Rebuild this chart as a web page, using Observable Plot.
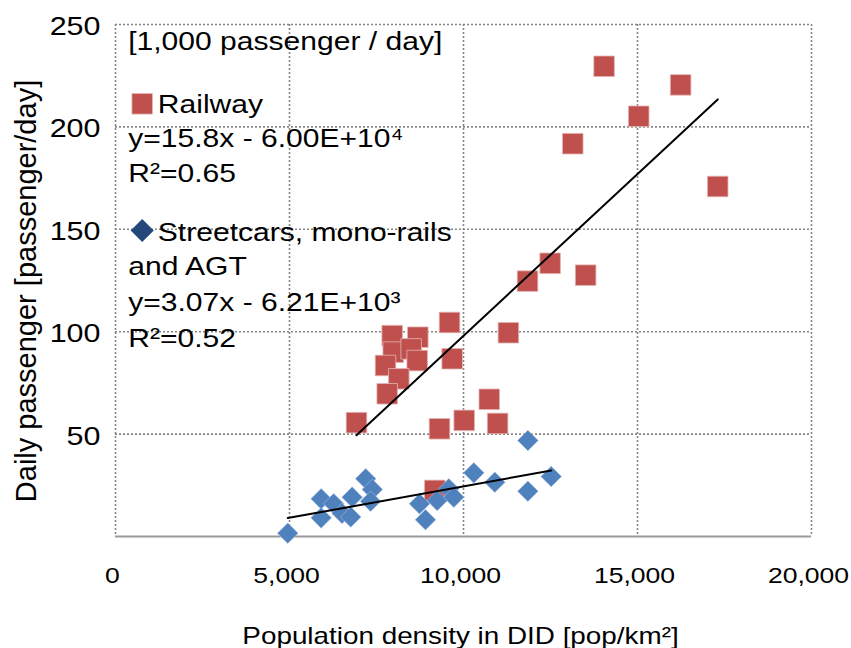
<!DOCTYPE html>
<html>
<head>
<meta charset="utf-8">
<script src="https://cdn.jsdelivr.net/npm/d3@7"></script>
<script src="https://cdn.jsdelivr.net/npm/@observablehq/plot@0.6"></script>
<style>
  html, body { margin: 0; padding: 0; background: #fff; }
</style>
</head>
<body>
<div id="chart"></div>
<script>
// ---- Data (population density in DID [pop/km²], daily passengers [1,000 / day]) ----
const railX = [14040, 16240, 15035, 13140, 17305, 11840, 12490, 13510, 11290, 9598,
               9674, 7950, 8687, 7980, 8496, 8669, 7759, 8141, 7807, 6925,
               9310, 10020, 10740, 10980, 9175];
const railY = [229.6, 220.5, 205.2, 191.8, 170.9, 124.7, 133.4, 127.6, 99.5, 104.5,
               86.8, 98.1, 97.3, 90.0, 91.6, 85.9, 83.5, 77.0, 69.7, 55.6,
               52.6, 56.7, 67.0, 55.2, 22.5];

const streetX = [4950, 5910, 5910, 6270, 6510, 6760, 6800, 7190, 7380, 7330,
                 8736, 8908, 9244, 9578, 9722, 10296, 10900, 11850, 11850, 12520];
const streetY = [1.6, 18.4, 9.1, 16.0, 11.3, 9.5, 19.2, 28.2, 23.0, 17.2,
                 16.0, 8.2, 17.6, 23.3, 19.2, 31.1, 26.5, 46.9, 22.1, 29.3];

// Linear trend coefficients (passengers/day = slope * density + intercept)
const railSlope = 15.8, railIntercept = -6.00e4;
const streetSlope = 3.07, streetIntercept = -6.21e3;

const xTicks = [0, 5000, 10000, 15000, 20000];
const yTicks = [50, 100, 150, 200, 250];

const legendTitle = "[1,000 passenger / day]";
const railLabel = "Railway";
const railEq = "y=15.8x - 6.00E+10\u2074";
const railR2 = "R\u00b2=0.65";
const streetLabel1 = "Streetcars, mono-rails";
const streetLabel2 = "and AGT";
const streetEq = "y=3.07x - 6.21E+10\u00b3";
const streetR2 = "R\u00b2=0.52";
const xTitle = "Population density in DID [pop/km\u00b2]";
const yTitle = "Daily passenger [passenger/day]";

// ---- Build tables ----
const rail = railX.map((x, i) => ({x, y: railY[i]}));
const street = streetX.map((x, i) => ({x, y: streetY[i]}));
const fit = (xs, slope, intercept) =>
  d3.extent(xs).map(x => ({x, y: (slope * x + intercept) / 1000}));
const railFit = fit(railX, railSlope, railIntercept);
const streetFit = fit(streetX, streetSlope, streetIntercept);

const ann = (str, dx, dy) =>
  Plot.text([str], {text: d => d, frameAnchor: "top-left", textAnchor: "start",
    lineAnchor: "bottom", dx, dy, fontSize: 26.6, fill: "#000"});

const gridStyle = {stroke: "#868686", strokeOpacity: 1, strokeWidth: 1.6, strokeDasharray: "2,2"};

const chart = Plot.plot({
  width: 851,
  height: 648,
  marginLeft: 115,
  marginRight: 40,
  marginTop: 24,
  marginBottom: 112,
  style: {fontFamily: "'Liberation Sans', Arial, sans-serif", background: "#fff", color: "#000"},
  x: {domain: [0, 20000]},
  y: {domain: [0, 250]},
  marks: [
    Plot.gridX({ticks: xTicks, ...gridStyle}),
    Plot.gridY({ticks: yTicks, ...gridStyle}),
    Plot.ruleY([0], {stroke: "#9a9a9a", strokeWidth: 2.2}),
    Plot.axisX({ticks: xTicks, tickSize: 0, tickPadding: 31, tickFormat: d3.format(","),
      fontSize: 22.5, label: null, dx: -3}),
    Plot.axisY({ticks: yTicks, tickSize: 0, tickPadding: 15, fontSize: 26.5, label: null, dy: 2}),
    Plot.dot(rail, {x: "x", y: "y", symbol: "square", r: 11.6, fill: "#c0504d",
      stroke: "#e3b5b4", strokeWidth: 0.8}),
    Plot.dot(street, {x: "x", y: "y", symbol: "diamond2", r: 9.3, fill: "#4f81bd",
      stroke: "#a9c1e0", strokeWidth: 0.6}),
    Plot.line(railFit, {x: "x", y: "y", stroke: "#000", strokeWidth: 2}),
    Plot.line(streetFit, {x: "x", y: "y", stroke: "#000", strokeWidth: 2}),
    // legend / annotations
    ann(legendTitle, 12.7, 25.3),
    Plot.dot([railLabel], {frameAnchor: "top-left", dx: 26.7, dy: 79.3, symbol: "square",
      r: 11.6, fill: "#c0504d", stroke: "#e3b5b4", strokeWidth: 0.8}),
    ann(railLabel, 42.3, 88.7),
    ann(railEq, 12.7, 122.7),
    ann(railR2, 12.7, 157.7),
    Plot.dot([streetLabel1], {frameAnchor: "top-left", dx: 26.7, dy: 206, symbol: "diamond2",
      r: 10.4, fill: "#24487a"}),
    ann(streetLabel1, 42.3, 216.5),
    ann(streetLabel2, 12.7, 250.3),
    ann(streetEq, 12.7, 286),
    ann(streetR2, 12.7, 322.7),
    // axis titles
    Plot.text([xTitle], {text: d => d, frameAnchor: "bottom", textAnchor: "middle",
      lineAnchor: "bottom", dx: -3, dy: 107, fontSize: 24, fill: "#000"}),
    Plot.text([yTitle], {text: d => d, frameAnchor: "left", textAnchor: "middle",
      lineAnchor: "bottom", rotate: -90, dx: -80, dy: 10.5, fontSize: 29, fill: "#000"})
  ]
});

// Horizontal stretch of glyphs (reference text is wider than plain Arial),
// chosen by the font size of each text group.
const stretchBySize = {"22.5": 1.18, "26.5": 1.15, "26.6": 1.13, "24": 1.16};
chart.querySelectorAll("text").forEach(el => {
  const holder = el.closest("[font-size]");
  if (!holder) return;
  const sx = stretchBySize[String(parseFloat(holder.getAttribute("font-size")))];
  if (!sx) return;
  const t = el.getAttribute("transform") || "";
  const x = parseFloat(el.getAttribute("x")) || 0;
  el.setAttribute("transform",
    `${t} translate(${x},0) scale(${sx},1) translate(${-x},0)`.trim());
});

document.getElementById("chart").appendChild(chart);
</script>
</body>
</html>
